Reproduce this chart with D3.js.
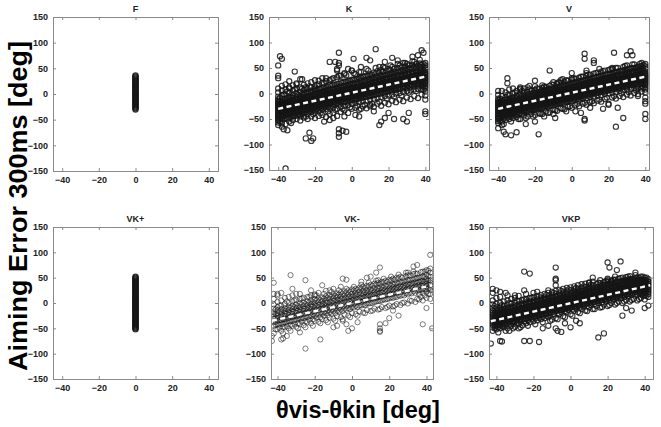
<!DOCTYPE html>
<html><head><meta charset="utf-8">
<script src="https://cdn.jsdelivr.net/npm/d3@7"></script>
<style>body{margin:0;background:#fff}svg{display:block;font-family:Arial,"Liberation Sans",sans-serif}</style>
</head><body><svg id="c" width="661" height="427"></svg>
<script>
const titles = ["F","K","V","VK+","VK-","VKP"];
const yTicks = [-150,-100,-50,0,50,100,150];
const xTicks = [-40,-20,0,20,40];
const yLabel = "Aiming Error 300ms [deg]";
const xLabel = "θvis-θkin [deg]";

// F condition: all trials at x = 0
const fX = [0];
const fY = [[-30,-28,-26,-24,-22,-20,-18,-16,-14,-12,-10,-8,-6,-4,-2,0,2,4,6,8,10,12,14,16,18,20,22,24,26,28,30,32,34,36]];
// VK+ condition: all trials at x = 0
const vkpX = [0];
const vkpY = [[-52,-50,-48,-46,-44,-42,-40,-38,-36,-34,-32,-30,-28,-26,-24,-22,-20,-18,-16,-14,-12,-10,-8,-6,-4,-2,0,2,4,6,8,10,12,14,16,18,20,22,24,26,28,30,32,34,36,38,40,42,44,46,48,50,52]];

// K condition (even columns + odd columns + outliers)
const kX = [-40,-38,-36,-34,-32,-30,-28,-26,-24,-22,-20,-18,-16,-14,-12,-10,-8,-6,-4,-2,0,2,4,6,8,10,12,14,16,18,20,22,24,26,28,30,32,34,36,38,40];
const kY = [
[-62,-57,-53,-50,-47,-44,-41,-38,-35,-32,-29,-26,-23,-20,-17,-14,-11,-6,2,10],
[-58,-50,-45,-41,-37,-33,-30,-27,-24,-20,-16,-11,-4,6,15],
[-60,-48,-43,-38,-34,-31,-28,-24,-20,-16,-10,-3,8,18],
[-55,-47,-41,-36,-32,-29,-25,-21,-17,-13,-7,1,12,24],
[-52,-44,-38,-34,-30,-26,-22,-18,-14,-9,-3,6,16],
[-50,-43,-37,-32,-28,-24,-20,-17,-12,-7,0,10,20],
[-53,-41,-35,-30,-26,-22,-18,-14,-10,-5,3,12,28],
[-47,-39,-33,-28,-24,-20,-16,-12,-7,-1,7,17],
[-50,-40,-32,-27,-22,-18,-14,-10,-5,1,9,20],
[-45,-36,-30,-25,-21,-17,-13,-9,-4,3,12,22],
[-48,-35,-28,-23,-19,-15,-11,-6,-1,6,14,26],
[-44,-33,-27,-22,-17,-13,-9,-4,2,9,18],
[-42,-31,-25,-20,-15,-11,-7,-2,4,11,21,30],
[-46,-30,-23,-18,-13,-9,-5,0,6,13,24],
[-40,-28,-21,-16,-12,-8,-3,2,8,16,26],
[-38,-27,-20,-15,-10,-6,-2,3,9,17,30],
[-44,-30,-19,-13,-9,-5,0,5,11,19,32,45],
[-36,-25,-17,-12,-7,-3,2,7,13,22,35],
[-33,-24,-16,-10,-6,-1,3,8,14,23,40],
[-38,-22,-14,-9,-4,0,5,10,16,25,48],
[-30,-20,-12,-7,-2,2,6,11,17,27,45],
[-28,-18,-11,-5,-1,4,8,13,19,28,38],
[-32,-17,-9,-4,1,5,9,14,20,30,42],
[-25,-15,-8,-2,3,7,11,16,22,33],
[-29,-14,-6,-1,4,8,13,18,24,35,48],
[-22,-12,-5,1,6,10,14,20,27,38],
[-26,-10,-3,3,7,12,16,22,29,41],
[-20,-9,-1,4,9,13,18,24,31,44],
[-24,-7,0,6,11,15,20,26,34,46],
[-18,-5,2,8,12,17,22,28,36,50],
[-21,-4,4,9,14,18,23,29,38,48],
[-14,-2,6,11,15,20,25,31,40,52],
[-17,0,7,12,17,21,26,33,42],
[-12,1,9,14,18,23,28,35,44,55],
[-15,3,10,15,20,25,30,37,46],
[-8,5,12,17,21,26,31,38,48,58],
[-11,6,13,18,23,28,33,40,50],
[-5,8,14,20,24,29,35,42,52,62],
[-9,9,16,21,26,31,36,44,54],
[-2,8,14,19,23,27,31,35,40,46,56],
[-12,-4,4,10,14,18,21,24,27,30,33,36,39,42,46,50,55,60]
];
const kOddX = [-39,-37,-35,-33,-31,-29,-27,-25,-23,-21,-19,-17,-15,-13,-11,-9,-7,-5,-3,-1,1,3,5,7,9,11,13,15,17,19,21,23,25,27,29,31,33,35,37,39];
const kOddY = [
[-55,-48,-42,-36,-31,-26,-21,-15,-8],[-50,-44,-37,-33,-28,-23,-19,-13,-2],[-49,-41,-35,-30,-25,-21,-16,-9,4],[-46,-39,-33,-28,-24,-19,-14,-7,-20],
[-44,-37,-31,-27,-22,-18,-12,-5,8],[-41,-35,-29,-25,-20,-16,-10,-3,-40],[-39,-33,-27,-23,-18,-14,-8,-1,10],[-37,-31,-25,-21,-16,-12,-6,1,-45],
[-35,-29,-24,-19,-14,-10,-4,3,14],[-33,-27,-22,-17,-12,-8,-2,5,-40],[-31,-25,-20,-15,-10,-6,0,7,16],[-29,-23,-18,-13,-8,-4,2,9,-38],
[-27,-21,-16,-11,-6,-2,4,11,20],[-26,-19,-14,-9,-5,0,6,13,-35],[-24,-17,-12,-7,-3,2,8,15,28],[-22,-16,-10,-5,-1,4,10,17,-32],
[-20,-14,-8,-3,1,6,12,19,35],[-18,-12,-6,-1,3,8,14,21,-30],[-16,-10,-5,1,5,10,16,23,36],[-14,-8,-3,2,7,12,18,25,-27],
[-13,-6,-1,4,9,14,20,27,40],[-11,-5,1,6,11,16,22,29,-24],[-9,-3,3,8,13,18,24,31,42],[-7,-1,5,10,15,20,26,33,-22],
[-5,1,7,12,17,22,28,35,45],[-4,3,9,14,19,24,30,37,-20],[-2,5,11,16,21,26,32,39,50],[0,7,13,18,23,28,34,41,-16],
[2,9,14,19,24,29,35,43,52],[4,10,16,21,26,31,37,44,-10],[6,12,18,23,28,33,39,46,55],[8,14,20,25,30,35,41,48,-6],
[9,16,21,27,32,37,43,50,58],[11,18,23,28,33,38,44,51,-4],[13,19,25,30,35,40,46,53,60],[15,21,27,32,37,42,48,55,2],
[16,23,28,33,38,43,49,56,63],[18,24,30,35,40,45,51,58,5],[19,26,31,36,41,46,52,59,66],[8,14,19,24,29,34,39,45,52,58]
];
const kOut = [[-39,73],[-38,68],[-40,55],[-40,35],[-40,30],[-37,-70],[-35,-72],[-31,43],[-27,28],[-25,-88],[-22,-93],[-21,-88],[-23,-77],[-18,25],[-12,62],[-9,62],[-7,80],[-7,60],[-7,55],[-7,-70],[-7,-78],[-7,-85],[-5,-73],[-3,-75],[0,45],[2,-42],[4,-45],[1,68],[8,70],[10,65],[13,87],[15,-62],[16,-55],[18,-48],[20,-38],[22,70],[23,-50],[28,-50],[30,-55],[31,-38],[33,72],[36,75],[38,85],[39,80],[40,-35],[40,-40],[-36,-147],[-10,-48],[-12,-52],[-15,-55],[-4,-45],[5,52],[25,65],[28,60],[18,62],[-20,10],[-25,12],[-30,18],[-34,10],[-14,30],[-8,48],[-4,38],[5,-30],[12,-35],[-38,-65],[-33,-58],[-28,-45],[15,52],[10,-25]];

// V condition
const vX = kX;
const vY = [
[-58,-54,-50,-47,-44,-41,-38,-35,-32,-29,-26,-23,-20,-17,-14,-10,-3,5],
[-55,-47,-43,-39,-35,-31,-28,-25,-21,-17,-12,-5,5],
[-52,-45,-40,-36,-32,-29,-25,-22,-18,-13,-7,2],
[-50,-43,-38,-34,-30,-27,-23,-19,-15,-10,-3,8],
[-48,-41,-36,-32,-28,-25,-21,-17,-13,-8,0,10],
[-46,-39,-34,-30,-26,-22,-19,-15,-10,-4,5],
[-50,-38,-32,-28,-24,-21,-17,-13,-8,-2,8,12],
[-43,-35,-30,-26,-22,-19,-15,-11,-6,1,10],
[-45,-34,-28,-24,-20,-17,-13,-9,-4,3,12],
[-40,-32,-27,-22,-18,-15,-11,-7,-2,5],
[-42,-30,-25,-21,-17,-13,-9,-5,0,7,14],
[-38,-29,-23,-19,-15,-11,-7,-3,2,9],
[-40,-27,-22,-17,-13,-9,-5,-1,4,11,16],
[-35,-25,-20,-15,-11,-7,-3,1,6,13],
[-37,-24,-18,-14,-9,-5,-1,3,8,15],
[-32,-22,-17,-12,-8,-4,0,5,10,17,22],
[-34,-21,-15,-10,-6,-2,2,7,12,19],
[-29,-19,-13,-9,-4,0,4,8,14,21,26],
[-31,-18,-12,-7,-3,2,6,10,16,23],
[-26,-16,-10,-5,-1,3,7,12,18,25],
[-28,-15,-9,-4,1,5,9,14,20,27,30],
[-23,-13,-7,-2,3,7,11,16,22,29],
[-25,-12,-6,-1,4,8,13,18,24,31],
[-20,-10,-4,1,6,10,14,19,25,33],
[-22,-9,-2,3,7,12,16,21,27,35,40],
[-17,-7,-1,4,9,13,18,23,29,37],
[-19,-6,1,6,10,15,19,24,31,39],
[-14,-4,2,7,12,16,21,26,33,41],
[-16,-3,4,9,13,18,22,28,35,43],
[-11,-1,5,10,15,19,24,30,37,45],
[-20,0,7,12,16,21,26,31,38,46],
[-8,2,8,13,18,22,27,33,40,48],
[-10,3,10,15,19,24,29,35,42,50],
[-5,5,11,16,21,25,30,36,44],
[-7,6,13,18,22,27,32,38,45,52],
[-2,8,14,19,24,28,33,40,47,55],
[-4,9,16,21,25,30,35,41,49],
[1,11,17,22,27,31,36,43,50,57],
[-1,12,18,24,28,33,38,45,52],
[4,10,15,20,24,28,32,36,41,47,54],
[-8,2,8,12,16,19,22,25,28,31,34,37,40,44,48,53,58]
];
const vOddX = kOddX;
const vOddY = [
[-53,-47,-41,-36,-31,-26,-21,-16,-10],[-49,-43,-38,-33,-29,-24,-19,-13,-60],[-47,-41,-36,-31,-27,-22,-17,-11,-3],[-45,-39,-34,-30,-25,-20,-15,-9,-55],
[-43,-37,-33,-28,-23,-19,-14,-8,2],[-41,-35,-31,-26,-22,-17,-12,-6,-50],[-39,-34,-29,-25,-20,-15,-10,-4,5],[-37,-32,-27,-23,-18,-14,-9,-3,-48],
[-35,-30,-26,-21,-17,-12,-7,-1,8],[-33,-28,-24,-19,-15,-11,-6,1,-45],[-31,-27,-22,-18,-13,-9,-4,2,10],[-29,-25,-20,-16,-12,-7,-2,4,-40],
[-28,-23,-19,-14,-10,-6,-1,6,14],[-26,-21,-17,-12,-8,-4,1,8,-38],[-24,-19,-15,-11,-7,-2,3,9,18],[-22,-18,-13,-9,-5,0,5,11,-33],
[-20,-16,-12,-7,-3,2,7,13,22],[-18,-14,-10,-5,-1,4,9,15,-30],[-16,-12,-8,-4,1,5,10,16,26],[-14,-10,-6,-2,3,7,12,18,-25],
[-12,-8,-4,0,5,9,14,20,30],[-10,-6,-2,2,7,11,16,22,-20],[-8,-4,0,4,8,13,18,24,33],[-6,-2,2,6,10,15,20,26,-18],
[-4,0,4,8,12,17,22,28,37],[-2,2,6,10,14,18,23,29,-15],[0,4,8,12,16,20,25,31,40],[2,6,10,14,18,22,27,33,-12],
[3,8,12,16,20,24,29,35,44],[5,9,13,18,22,26,31,37,-8],[7,11,15,19,24,28,33,39,47],[9,13,17,21,26,30,35,41,-5],
[10,15,19,23,27,32,37,43,50],[12,16,21,25,29,34,39,45,0],[14,18,22,27,31,35,40,46,54],[16,20,24,28,33,37,42,48,3],
[17,22,26,30,34,39,44,50,57],[19,23,27,32,36,40,45,51,6],[21,25,29,33,38,42,47,53,58],[12,18,23,27,31,35,39,44,50,56]
];
const vOut = [[-35,30],[-35,20],[-40,-68],[-37,-75],[-36,-80],[-33,-82],[-30,-76],[-38,-62],[-25,-60],[-20,-55],[-18,-80],[-12,45],[-20,25],[-15,12],[-8,20],[-5,28],[0,40],[2,-35],[5,-38],[7,78],[7,68],[7,-50],[7,-53],[8,45],[12,65],[12,60],[15,48],[17,-30],[20,-22],[22,50],[23,80],[24,-65],[25,-28],[28,-48],[30,75],[32,83],[33,75],[38,60],[40,-15],[40,-20],[40,-40],[40,-50],[-28,10],[-23,15],[-10,-40],[-15,-45],[10,-28],[-3,-35],[-9,-48],[35,10],[36,-5]];

// VK- condition
const vkmX = [-42,-40,-38,-36,-34,-32,-30,-28,-26,-24,-22,-20,-18,-16,-14,-12,-10,-8,-6,-4,-2,0,2,4,6,8,10,12,14,16,18,20,22,24,26,28,30,32,34,36,38,40,42];
const vkmY = [
[-60,-45,-38,-32,-27,-22,-17,-11,-3,8,18],
[-52,-42,-35,-30,-25,-20,-15,-8,2,15],
[-55,-40,-34,-28,-23,-18,-12,-5,5,20],
[-48,-38,-32,-26,-21,-16,-10,-2,10],
[-50,-36,-30,-24,-19,-14,-8,0,12],
[-45,-35,-28,-22,-17,-12,-6,3,15],
[-47,-33,-26,-20,-15,-10,-3,6],
[-42,-31,-24,-18,-13,-8,-1,8,18],
[-44,-30,-22,-16,-11,-6,1,10],
[-38,-28,-20,-15,-9,-4,3,12],
[-40,-26,-19,-13,-7,-2,5,15],
[-35,-25,-17,-11,-5,0,7,17],
[-37,-23,-15,-9,-4,2,9,20],
[-32,-21,-13,-7,-2,4,11],
[-34,-20,-12,-6,0,6,13,24],
[-29,-18,-10,-4,2,8,15],
[-31,-16,-8,-2,4,10,17,28],
[-26,-15,-6,0,6,12,19],
[-28,-13,-5,1,7,13,21,32],
[-23,-11,-3,3,9,15,23],
[-25,-10,-1,5,11,17,25],
[-20,-8,0,6,12,18,27],
[-22,-6,2,8,14,20,28],
[-17,-5,4,10,16,22,30],
[-19,-3,5,11,17,24,32],
[-14,-1,7,13,19,25,34],
[-16,0,9,15,21,27,36],
[-11,2,10,16,22,29,38],
[-13,4,12,18,24,30,40,45],
[-8,5,13,20,26,32,42],
[-10,7,15,21,27,34,44],
[-5,9,17,23,29,36,46],
[-7,10,18,25,31,37,48],
[-2,12,20,26,32,39,50],
[-4,14,22,28,34,41,52],
[1,15,23,30,36,43],
[-1,17,25,31,37,45,55],
[4,19,27,33,39,46],
[2,20,28,34,41,48,58],
[7,18,25,31,36,42,50],
[5,20,27,33,38,44,52,62],
[10,22,28,33,38,43,48,56,65],
[8,18,25,30,35,40,45,52,60]
];
const vkmOddX = [-41,-39,-37,-35,-33,-31,-29,-27,-25,-23,-21,-19,-17,-15,-13,-11,-9,-7,-5,-3,-1,1,3,5,7,9,11,13,15,17,19,21,23,25,27,29,31,33,35,37,39,41];
const vkmOddY = [
[-52,-43,-37,-29,-22,-13],[-49,-42,-34,-28,-17,-5],[-47,-41,-32,-25,-14,-60],[-46,-37,-31,-21,-12,3],
[-43,-36,-27,-20,-9,-55],[-41,-34,-26,-17,-8,5],[-40,-31,-25,-15,-6,-50],[-37,-30,-21,-14,-3,9],
[-36,-27,-20,-11,-2,-48],[-33,-26,-17,-10,1,12],[-32,-23,-16,-7,2,-45],[-29,-22,-13,-6,5,15],
[-28,-19,-12,-3,6,-40],[-25,-18,-9,-2,9,18],[-24,-15,-8,1,10,-38],[-21,-14,-5,2,13,22],
[-20,-11,-4,5,14,-35],[-17,-10,-1,6,17,25],[-16,-7,0,9,18,-32],[-13,-6,3,10,21,28],
[-12,-3,4,13,22,-28],[-9,-2,7,14,25,32],[-8,1,8,17,26,-25],[-5,2,11,18,29,36],
[-4,5,12,21,30,-20],[-1,6,15,22,33,40],[0,9,16,25,34,-15],[3,10,19,26,37,44],
[4,13,20,29,38,-12],[7,14,23,30,41,48],[8,17,24,33,42,-8],[11,18,27,34,45,52],
[12,21,28,37,46,-5],[15,22,31,38,49,56],[16,25,32,41,50,0],[19,26,35,42,53,60],
[20,29,36,45,54,5],[23,30,39,46,57,62],[24,33,40,49,58,8],[26,34,43,50,61,12],
[27,35,42,51,62,15],[29,37,45,53,64,18]
];
const vkmOut = [[-43,-75],[-43,-65],[-42,40],[-40,18],[-37,-70],[-38,-72],[-35,-65],[-33,55],[-32,28],[-28,-58],[-25,-90],[-25,45],[-20,15],[-17,-72],[-16,35],[-12,25],[-10,-48],[-8,-45],[-5,48],[-3,46],[-3,-42],[-2,-55],[0,-50],[3,-38],[8,50],[10,52],[13,60],[15,70],[15,-42],[15,-50],[15,-55],[15,-57],[18,-40],[20,-30],[25,-25],[30,60],[33,72],[35,75],[38,-42],[42,95],[43,-50],[42,68],[-30,18],[-22,25],[-5,-35],[5,42],[22,-15],[40,-10]];

// VKP condition
const vkpcX = vkmX;
const vkpcY = [
[-55,-48,-43,-39,-35,-31,-27,-23,-19,-15,-10,-3,5,20],
[-52,-45,-40,-36,-32,-28,-24,-20,-15,-9,-2,10],
[-50,-44,-38,-34,-30,-26,-22,-18,-13,-7,0,12],
[-48,-42,-37,-32,-28,-24,-20,-16,-11,-5,3],
[-50,-40,-35,-30,-26,-22,-18,-14,-9,-3,5,15],
[-45,-38,-33,-28,-24,-20,-16,-12,-7,-1,8],
[-47,-36,-31,-27,-23,-19,-15,-10,-5,1,10],
[-42,-34,-29,-25,-21,-17,-13,-8,-3,4,14],
[-44,-33,-27,-23,-19,-15,-11,-6,-1,6],
[-40,-31,-26,-21,-17,-13,-9,-4,1,8,18],
[-38,-29,-24,-19,-15,-11,-7,-2,3,10],
[-36,-27,-22,-17,-13,-9,-5,0,5,12,20],
[-34,-25,-20,-16,-11,-7,-3,2,7,14],
[-32,-23,-18,-14,-10,-6,-1,4,9,16],
[-30,-22,-16,-12,-8,-4,1,6,11,18],
[-28,-20,-14,-10,-6,-2,3,8,13,20,25],
[-33,-18,-13,-8,-4,0,5,10,15,22],
[-30,-16,-11,-6,-2,2,7,12,17,24,35],
[-22,-14,-9,-5,0,4,9,14,19,26],
[-26,-12,-7,-3,2,6,11,15,21,28],
[-18,-10,-5,-1,4,8,12,17,23,30],
[-22,-9,-4,1,5,10,14,19,25,31],
[-15,-7,-2,3,7,11,16,21,27,33],
[-18,-5,0,5,9,13,18,23,28,35],
[-12,-3,2,6,11,15,19,24,30,37],
[-15,-2,4,8,12,17,21,26,32,38],
[-9,0,5,10,14,18,23,28,33,40],
[-12,2,7,11,16,20,25,30,35,42],
[-6,4,9,13,17,22,26,31,37],
[-9,5,10,15,19,23,28,33,39,45],
[-3,7,12,16,21,25,30,35,41],
[-6,9,14,18,22,27,31,37,42,48],
[0,10,15,20,24,28,33,38,44],
[-3,12,17,21,26,30,35,40,46,52],
[3,14,18,23,27,32,36,42,48],
[0,15,20,25,29,33,38,44,50],
[6,17,22,26,30,35,40,45,51],
[3,18,23,28,32,36,41,47,53],
[8,19,24,29,33,38,43,48],
[5,16,21,26,30,34,39,44,50],
[10,18,23,27,31,35,40,45,52],
[7,15,20,24,28,32,36,40,45,50],
[12,18,22,26,30,34,38,42,47]
];
const vkpcOddX = vkmOddX;
const vkpcOddY = [
[-50,-44,-39,-35,-31,-26,-21,-15,-6],[-48,-42,-38,-33,-29,-25,-20,-14,-58],[-46,-41,-36,-32,-28,-23,-18,-12,-4],[-44,-39,-34,-30,-26,-22,-17,-11,-55],
[-43,-37,-33,-29,-24,-20,-15,-9,0],[-41,-36,-31,-27,-23,-18,-14,-8,-50],[-39,-34,-30,-25,-21,-17,-12,-6,4],[-37,-32,-28,-24,-19,-15,-10,-4,-48],
[-36,-31,-26,-22,-18,-13,-9,-3,7],[-34,-29,-25,-20,-16,-12,-7,-1,-45],[-32,-27,-23,-19,-14,-10,-5,1,10],[-30,-26,-21,-17,-13,-8,-4,3,-42],
[-29,-24,-20,-15,-11,-7,-2,4,13],[-27,-22,-18,-14,-9,-5,0,6,-38],[-25,-21,-16,-12,-8,-3,2,8,16],[-23,-19,-15,-10,-6,-2,3,10,-35],
[-22,-17,-13,-9,-4,0,5,11,20],[-20,-15,-11,-7,-3,2,7,13,-32],[-18,-14,-9,-5,-1,4,9,15,24],[-16,-12,-8,-3,1,5,10,17,-28],
[-14,-10,-6,-2,3,7,12,18,27],[-13,-8,-4,0,4,9,14,20,-25],[-11,-7,-2,2,6,11,16,22,30],[-9,-5,-1,4,8,12,17,23,-20],
[-7,-3,1,5,10,14,19,25,33],[-6,-1,3,7,11,16,21,27,-16],[-4,1,5,9,13,18,23,29,36],[-2,2,7,11,15,19,24,30,-12],
[0,4,8,12,17,21,26,32,40],[1,6,10,14,18,23,28,34,-8],[3,7,12,16,20,25,30,36,43],[5,9,13,17,22,26,31,37,-4],
[7,11,15,19,24,28,33,39,46],[9,13,17,21,25,30,35,41,0],[10,15,19,23,27,31,36,42,49],[12,16,20,25,29,33,38,44,3],
[14,18,22,26,31,35,40,46,52],[16,20,24,28,32,37,42,47,6],[17,22,26,30,34,38,43,49,55],[19,23,27,32,36,40,45,50,8],
[15,20,25,29,33,37,41,46,52],[14,19,24,28,32,36,40,45,50]
];
const vkpcOut = [[-43,-80],[-38,-75],[-37,-76],[-42,28],[-40,25],[-38,22],[-35,20],[-30,15],[-25,62],[-22,58],[-25,-75],[-22,-75],[-17,-77],[-25,25],[-8,70],[-8,48],[-8,45],[-7,-55],[-5,-57],[-8,-50],[-3,-40],[0,-48],[3,-35],[5,-40],[12,50],[15,-68],[18,-60],[20,80],[21,70],[20,45],[22,42],[25,65],[27,82],[28,-25],[30,-10],[33,-15],[35,60],[40,-10],[42,-5],[-15,-50],[-12,-45],[10,40],[-18,22],[-28,-50],[-33,-55]];

// regression fits (endpoints)
const kFit = [[-40,-30],[40,33]];
const vFit = [[-40,-30],[40,33]];
const vkmFit = [[-43,-35],[43,35]];
const vkpcFit = [[-43,-36],[43,35]];

function cols(xs, ys){ return xs.flatMap((x,i)=>ys[i].map(y=>[x,y])); }

const panelData = [
  {pts: cols(fX,fY), fit:null},
  {pts: cols(kX,kY).concat(cols(kOddX,kOddY), kOut), fit:kFit},
  {pts: cols(vX,vY).concat(cols(vOddX,vOddY), vOut), fit:vFit},
  {pts: cols(vkpX,vkpY), fit:null},
  {pts: cols(vkmX,vkmY).concat(cols(vkmOddX,vkmOddY), vkmOut), fit:vkmFit},
  {pts: cols(vkpcX,vkpcY).concat(cols(vkpcOddX,vkpcOddY), vkpcOut), fit:vkpcFit}
];
// layout (pixels) and x-domains per panel
const layout = [
  {l:53,r:218,t:17,b:171,dom:[-45,45]},
  {l:269,r:429,t:17,b:170,dom:[-45,42]},
  {l:489,r:649,t:17,b:170,dom:[-45,42]},
  {l:53,r:218,t:227,b:379,dom:[-45,45]},
  {l:271,r:433,t:227,b:379,dom:[-43.5,43.5]},
  {l:489,r:653,t:227,b:379,dom:[-44,44.5]}
];
const markW = [1.3,1.15,1.15,1.3,0.8,1.1];
const markO = [0.85,0.85,0.85,0.85,0.7,0.85];

const svg = d3.select("#c");
layout.forEach((L,i)=>{
  const x = d3.scaleLinear().domain(L.dom).range([L.l,L.r]);
  const y = d3.scaleLinear().domain([-150,150]).range([L.b,L.t]);
  const g = svg.append("g");
  const defsId = "clip"+i;
  svg.append("clipPath").attr("id",defsId).append("rect")
    .attr("x",L.l).attr("y",L.t).attr("width",L.r-L.l).attr("height",L.b-L.t);
  const pg = g.append("g").attr("clip-path",`url(#${defsId})`);
  pg.selectAll("circle").data(panelData[i].pts).join("circle")
    .attr("cx",d=>x(d[0])).attr("cy",d=>y(d[1])).attr("r",2.6)
    .attr("fill","none").attr("stroke","#151515").attr("stroke-opacity",markO[i]).attr("stroke-width",markW[i]);
  if(panelData[i].fit){
    pg.append("path").datum(panelData[i].fit)
      .attr("d",d3.line().x(d=>x(d[0])).y(d=>y(d[1])))
      .attr("stroke","#fff").attr("stroke-width",2.4).attr("stroke-dasharray","5,3.5").attr("fill","none");
  }
  // axes (MATLAB-style box with inward ticks)
  const axB = d3.axisBottom(x).tickValues(xTicks).tickSize(-3).tickPadding(6).tickFormat(d3.format("d"));
  const axT = d3.axisTop(x).tickValues(xTicks).tickSize(-3).tickFormat("");
  const axL = d3.axisLeft(y).tickValues(yTicks).tickSize(-3).tickPadding(5).tickFormat(d3.format("d"));
  const axR = d3.axisRight(y).tickValues(yTicks).tickSize(-3).tickFormat("");
  const gb = g.append("g").attr("transform",`translate(0,${L.b})`).call(axB);
  const gt = g.append("g").attr("transform",`translate(0,${L.t})`).call(axT);
  const gl = g.append("g").attr("transform",`translate(${L.l},0)`).call(axL);
  const gr = g.append("g").attr("transform",`translate(${L.r},0)`).call(axR);
  [gb,gt,gl,gr].forEach(a=>{
    a.select(".domain").attr("stroke","#8a8a8a").attr("stroke-width",1);
    a.selectAll(".tick line").attr("stroke","#8a8a8a");
    a.selectAll("text").attr("font-size",9).attr("font-weight","bold").attr("fill","#222")
      .attr("font-family","Arial,'Liberation Sans',sans-serif");
  });
  g.append("text").attr("x",(L.l+L.r)/2).attr("y",L.t-5).attr("text-anchor","middle")
    .attr("font-size",9).attr("font-weight","bold").attr("fill","#222").text(titles[i]);
});

svg.append("text").attr("transform","translate(27,206) rotate(-90)").attr("text-anchor","middle")
  .attr("font-size",25).attr("font-weight","bold").attr("fill","#000")
  .attr("textLength",330).attr("lengthAdjust","spacingAndGlyphs").text(yLabel);
svg.append("text").attr("x",358).attr("y",418).attr("text-anchor","middle")
  .attr("font-size",23.5).attr("font-weight","bold").attr("fill","#000").text(xLabel);
</script></body></html>
